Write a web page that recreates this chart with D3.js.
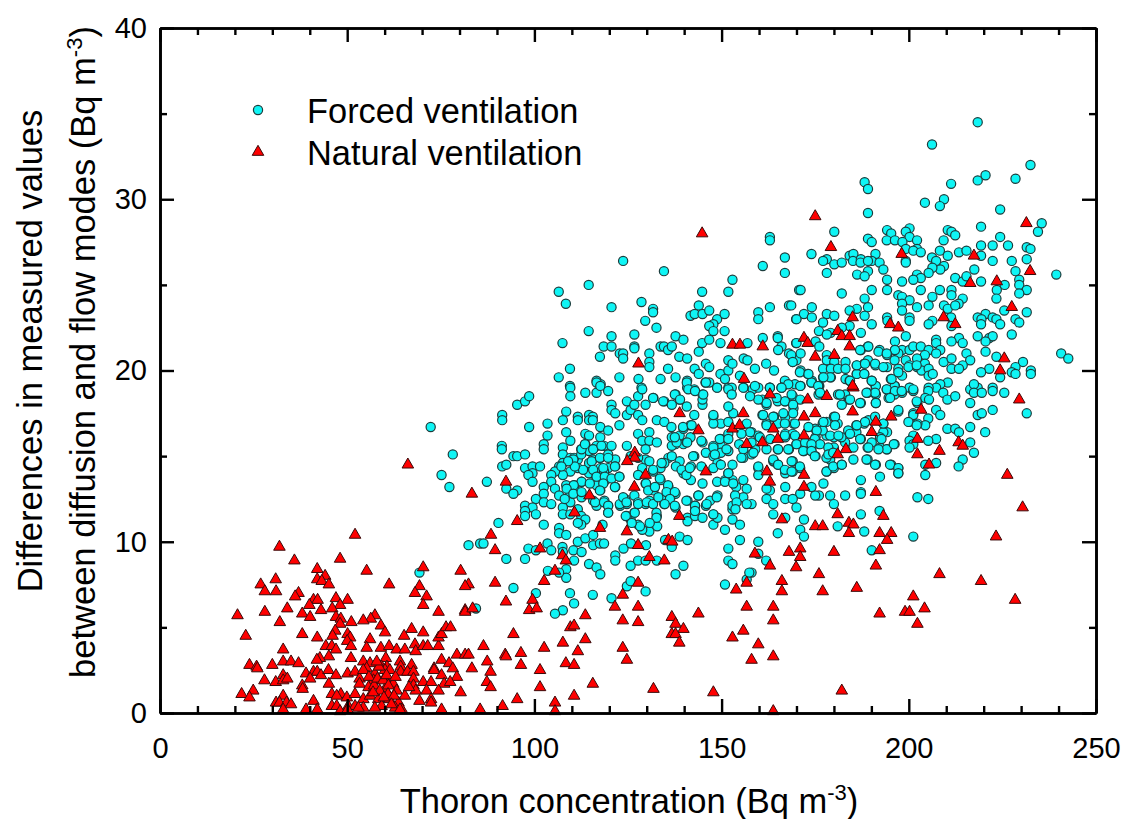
<!DOCTYPE html>
<html>
<head>
	<meta charset="utf-8">
	<title>Thoron scatter</title>
	<script src="https://d3js.org/d3.v7.min.js"></script>
	<style>
		html, body { margin: 0; padding: 0; background: #fff; }
		text { font-family: "Liberation Sans", Arial, sans-serif; fill: #000; }
	</style>
</head>
<body>
	<div class="chart"></div>

	<script type="text/javascript">

		// values: [thoron, difference]
		const forcedPoints = [
			[123.7,26.4],[134.6,25.8],[114.5,25],[106.5,24.6],[108.4,23.9],[120.6,23.7],[128.6,24],[131.7,23.6],[131.7,23.4],[129.6,22.9],[132.6,22.5],[114.5,22.3],[107.5,21.6],[120.6,22],[126.7,22.1],[126.7,21.4],[126.7,21.3],[118.5,21.4],[120.6,21.4],[117.5,20.8],[122.8,21],[123.7,21],[123.7,20.7],[130.7,21],[130.7,20.5],[130.7,20.2],[133.7,21.4],[134.6,21.4],[135.7,21.2],[136.7,21.4],[137.7,22],[139.8,21.8],[138.7,20.8],[140.8,20.7],[143.9,21.1],[144.8,21.6],[146.7,21.8],[149.7,21.6],[156.9,21.6],[161,21.9],[165,22],[165,21.9],[166,21.4],[165.1,21.2],[169.9,21.6],[168,21],[169,20.5],[144.8,24.6],[143.9,23.8],[141.7,23.2],[142.8,23.3],[144.9,23.3],[146.7,23.5],[148.8,23],[147.8,22.7],[146.7,22.6],[147.8,22.3],[150.8,23.3],[150.8,22.3],[151.8,24.6],[152.9,25.3],[161,26.1],[162.9,27.8],[162.9,27.6],[166.9,26.6],[166.9,25.7],[170.7,24.7],[162.9,23.7],[168,23.8],[159.8,23.4],[159.8,23],[169.9,23],
			[109.5,20.1],[106.5,19.6],[109.5,19.1],[116.6,19.4],[117.7,19.2],[122.7,19.6],[127.8,19.5],[128.6,19],[133.7,19.5],[135.7,20.1],[137.7,19.6],[140.8,19.4],[140.8,19],[142.8,20.1],[143.9,19.8],[145.8,20.4],[146.7,20.2],[145.7,19.3],[146.7,19.3],[148.8,19],[149.7,19.8],[151.8,20],[151.8,20.6],[152.9,20.4],[150.9,19.5],[151.8,19],[154.9,19.7],[155.9,20.7],[156.9,20.6],[158.9,20.1],[161.9,20.4],[164,20],[166.9,19.4],[158.9,19],[162.9,19],[166,19],[169.6,19.2],[155.9,19],[170,20.6],
			[218.4,34.5],[206.2,33.2],[232.5,32],[220.5,31.4],[218.4,31.1],[228.5,31.2],[211.3,30.9],[188.2,31],[189.1,30.6],[209.4,30],[204.3,29.8],[208.3,29.6],[224.4,29.4],[189.1,29.2],[235.5,28.6],[234.5,28.1],[219.3,28.4],[180.1,28.1],[194.2,28.2],[195.3,28],[200.2,28.3],[199.2,28.1],[200.2,27.8],[194.1,27.6],[196.3,27.6],[202.2,27.6],[198.3,27.5],[189.1,27.7],[190.1,27.5],[210.4,28.2],[211.4,28.1],[212.4,27.9],[209.3,27.6],[224.4,27.8],[219.3,27.3],[222.4,27.3],[226.5,27.3],[231.5,27.2],[232.5,27.1],[199.2,27.1],[202.2,27.1],[201.2,27],[203.2,26.9],[208.3,27],[210.4,26.7],[213.4,26.9],[215.4,27],[219.3,26.7],[174,26.8],[178.1,26.5],[177.1,26.4],[184.2,26.7],[185.2,26.8],[185.1,26.4],[187.2,26.5],[187.1,26.3],[191.1,26.8],[190.1,26.4],[189.1,26.4],[192.2,26.3],[180.1,26.2],[182.1,26.3],[199.2,26.4],[199.2,26.3],[206.2,26.6],[207.3,26.4],[209.4,26.1],[208.4,25.9],[206.3,26],[205.3,25.7],[222.4,26.4],[227.5,26.4],[231.5,26.5],[228.5,25.8],[217.5,25.9],[193.2,25.9],[178.1,25.7],[186.2,25.6],[189.1,25.8],[188.2,25.5],[202.2,25.6],[203.2,25.4],[201.2,25.3],[212.4,25.4],[214.4,25.2],[215.4,25.5],[219.3,25.2],[225.6,25],[239.4,25.6],[229.5,25.3],[229.5,25],[198.2,25.2],[194.2,25.3],[194.2,24.7],[190.1,24.7],[171.1,24.7],[182.1,24.5],[203.2,24.7],[208.3,24.7],[211.4,24.7],[211.4,24.4],[223.5,24.7],[231.5,24.7],[229.5,24.5],[206.3,24.3],[188.2,24.2],[197.2,24.4],[198.2,24.3],[200.2,24.1],[214.4,24.2],[213.3,23.9],[223.4,24.2],[205.3,23.8],[209.4,23.8],[210.4,23.6],[212.4,23.8],[198.2,23.9],[198.2,23.5],[189.1,23.7],[202.2,23.7],[186.1,23.6],[184.2,23.5],[174.1,23.7],[168.6,23.8],[172,23.3],[174.1,23.1],[178.1,23.3],[180.1,23.2],[170,23],[188.2,23.2],[225.5,23.5],[231.5,23.4],[220.5,23.3],[218.4,23.1],[219.4,23],[222.4,23.1],[223.4,23],[224.4,22.7],[219.3,22.7],[228.5,23],[229.5,22.8],[206.3,22.9],[205.3,22.7],[211.3,23.1],[211.4,22.6],[200.2,23.1],[200.2,22.9],[194.2,23.1],[194.3,22.9],[190.1,22.7],[177.1,22.8],[184.2,22.6],[182.1,22.5],[176,22.3],[179.1,22.2],[178.1,22.1],[187.2,22.2],[199.2,22],[227.5,22.1],[218.4,22],[221.5,21.9],[222.4,22],[220.5,21.7],[213.4,21.9],[214.4,21.6],[211.4,21.7],[207.3,21.8],[207.3,21.6],[196.3,21.7],[175.1,21.7],[170,21.6],[176.1,21.4],[189.1,21.4],[187.2,21.2],[192.2,21.2],[196.3,21.2],[198.2,21.2],[200.2,21.2],[201.2,21.4],[203.2,21.4],[205.3,21.2],[208.4,21.2],[207.3,21],[215.4,21],[220.5,21.1],[171.1,21],[178.1,20.9],[168.6,20.9],[194.2,20.9],[197.2,21],[199.2,20.6],[204.3,20.9],[202.2,20.7],[240.7,21],[242.6,20.7],[223.4,20.8],[230.5,20.5],[216.4,20.6],[209.3,20.5],[211.4,20.7],[211.4,20.1],[214.4,20.3],[213.4,20.1],[169,20.5],[183.1,20.5],[178.1,20.6],[180.1,20.5],[186.1,20.3],[188.1,20.4],[189.1,20.6],[191.1,20.3],[194.2,20.2],[196.2,20.6],[197.2,20.1],[200.2,20.3],[202.2,20.2],[204.3,20.4],[203.4,20],[205.3,20.1],[221.5,20.1],[219.3,19.9],[228.5,20.2],[227.5,19.9],[228.5,19.8],[232.6,20],[232.6,19.8],[224.4,19.6],[210.4,19.3],[177.1,20.1],[179.2,20.1],[181.1,20.1],[183.1,20.1],[171.1,20],[173,19.8],[177.1,19.6],[179.2,19.6],[174.1,19.4],[176.1,19.1],[171.1,19.1],[183.1,19.5],[184.2,19.4],[186.1,19.8],[188.1,19.8],[190.1,19.4],[191.1,19.1],[195.2,19.5],[198.2,19.7],[200.3,19],[205.3,19.7],[206.4,19.8],[208.4,19.2],[207.3,19],[217.5,19.1],[218.4,19],[222.4,19],[196.3,19.1],[205.3,19],
			[158.3,18.9],[159.8,19],[162.9,19],[166.1,19],[167.8,19.2],[171,19.1],[174,19.3],[176,19.1],[175.9,18.6],[181.1,18.6],[183,18.6],[184,18.3],[182.1,18],[189,18.7],[191.2,19.1],[191.2,18.6],[191.2,18.1],[187.2,18.1],[194.1,18.9],[196.2,19.1],[198.2,18.7],[196.2,18.6],[194.6,18.4],[200.2,19],[201.2,18.8],[205.2,18.8],[204.4,18.4],[205.4,18.3],[202.3,18.1],[209.2,18.7],[210.3,18.3],[212.4,18.5],[207.3,17.7],[208.4,17.4],[216.4,18.9],[217.4,19.2],[217.4,18.7],[219.5,18.7],[222.4,18.8],[225.5,18.7],[216.4,18.1],[218.4,17.4],[219.5,17.5],[222.4,17.7],[231.5,17.5],[220.4,16.4],[216.4,16.7],[210.3,16.6],[212.4,16.6],[213.4,16.4],[216.4,15.8],[217.4,15.2],[214.4,14.8],[213.3,14.4],[207.3,16],[205.2,15.9],[207.3,14.6],[204.4,14.5],[204.4,13.9],[201.2,16.2],[200.2,15.9],[201.2,15.7],[200.2,15.5],[205.2,17.2],[204.4,16.8],[202.3,16.9],[200.2,17],[201.2,17.5],[197.2,17.6],[193.2,16.9],[194.2,16.4],[193.2,16.4],[192.3,16.1],[196.2,15.7],[194.2,15.4],[192.3,15.5],[189,15.5],[190.1,15.8],[185.2,14.8],[189,14.8],[191.2,14.5],[195.3,14.5],[197.2,14.3],[197.2,14],[192.3,13.8],[187.2,13.6],[187.2,12.9],[187.2,12.8],[183,12.7],[179,12.7],[176,12.7],[175,12.7],[174,13.2],[171,12.8],[177.2,13.4],[180,12.2],[178.1,14.1],[180,14.3],[182.1,14.5],[179,14.8],[171,14.3],[169,14.1],[167,14],[165,14.5],[163.8,14.7],[159.8,14.3],[159.8,13.9],[167,13.2],[162.9,13],[162,13.1],[162,12.5],[167,12.5],[169,12.5],[170,12],[163.8,12.2],[158,12.2],[163.8,11.6],[167,11.4],[172,11.3],[171,10.7],[172,10.3],[165,10.5],[181,10.9],[187.2,11.6],[192.2,11.8],[188.1,10.6],[201.2,10.3],[190.1,9.5],[202.3,12.6],[205.2,12.5],[159.8,10],[159.8,9.3],[161.9,8.9],[158,8.2],
			[160.9,18.3],[162,18],[165,18.2],[169,18.5],[171,18.3],[167,18.2],[169.2,17.8],[160.9,17.4],[164,17.3],[167,17.3],[169.2,16.9],[162,16.9],[165,16.9],[158,16.4],[167,16.3],[169,16.3],[159.8,16.2],[175,16.6],[177,16.9],[178,17],[180,17.3],[181,16.9],[180,16.1],[178,16.2],[175.1,16.1],[170,15.7],[176,15.7],[172,15.3],[174,15.3],[175.1,15],[179,15.4],[180,15.5],[183,15.8],[184,16.4],[186,16.4],[187.2,16],[186,16.8],[188.1,16.9],[189.2,17.1],[185.2,15.5],[162,15.4],[165,15.4],[168,15.4],[159,15.4],[164,14.7],[169,14.7],[167,16.1],[163,16],[158,15.8],[158,15.1],[177,16.5],[182,16.1],[179,16.2],[178,14.9],
			[72.3,16.7],[78.2,15.1],[75.2,13.9],[77.3,13.2],[87.3,13.5],[90.4,11.1],[82.4,9.8],[85.5,9.9],[86.4,9.9],[92.5,9],[97.5,9],[98.4,9.6],[100.4,9.5],[94.4,7.3],[100.4,7],[103.6,8.3],[103.5,9.9],[104.5,9.5],[102.5,11],[106.6,10.8],[106.6,10.5],[108.5,10.4],[107.5,9.7],[107.6,9.4],[110.4,9.5],[112.6,9.4],[111.6,10],[113.6,10.2],[115.7,10.4],[115.7,9.8],[117.5,9.9],[118.6,9.9],[118.2,11],[110.6,8.9],[108.5,8.4],[108.5,7.9],[106.6,8.2],[114.6,8.7],[116.6,8.5],[117.6,8.1],[109.5,7],[110.6,6.4],[107.6,6],[105.5,5.8],[115.6,6.9],[120.6,6.7],[121.6,9.2],[121.6,8.9],[123.8,9.6],[125.8,9.9],[125.7,8.6],[127.7,8.9],[129.7,8.9],[132.7,8.9],[129.8,9.8],[124.7,7.4],[125.7,7.7],[129.7,7.1],[137.7,8.1],[139.8,8.6],[134.9,10.1],[138.8,10.3],[140.9,10.1],[136.7,9.7],[150.9,7.5],[151.8,9.6],[151.8,8.9],[152.9,8.7],[154.9,10.1],[156.7,7.8],[157.4,8.2],[130.7,10.6],[128.8,10.7],[127.7,11],[125.7,11.3],[126.7,11.7],[124.7,11.5],[132.7,11.5],[132.8,10.9],[140.9,11.4],[140.9,11.2],[142.9,11.5],[144.9,11.4],[147.8,11.6],[147.8,11],[148.9,11.4],[150.9,10.7],[152.9,11.3],[154.9,11],[152.9,11.9],[69.3,8.2],[84.4,6.1],
			[91.4,17.4],[91.4,17.1],[95.4,18],[97.5,18.2],[98.6,18.5],[98.6,16.7],[103.5,16.9],[103.5,16.2],[102.5,15.7],[102.5,15.4],[91.3,15.6],[91.3,15.4],[94.4,15],[95.4,15],[97.5,15.1],[91.4,14.4],[92.5,14.5],[97.5,14.3],[99.5,14.4],[101.5,14.4],[99.5,14],[98.4,13.9],[99.5,13.5],[92.5,13.1],[95.4,13],[94.4,12.8],[109.6,19],[109.6,18.5],[113.6,18.7],[116.6,18.7],[119.7,18.8],[116.6,19.3],[117.6,19.1],[108.5,17.6],[107.6,17.1],[111.6,17.3],[111.6,17.1],[114.6,17.4],[115.6,17.3],[114.6,17.1],[115.6,17.1],[117.6,16.7],[119.7,16.5],[108.5,16.4],[113.6,16.3],[114.6,16.2],[117.6,16.1],[109.6,15.9],[107.6,15.5],[107.6,15.1],[113.6,15.7],[116.6,15.6],[118.6,15.6],[112.5,15.4],[115.6,15.4],[114.6,15.3],[119.7,15.1],[117.6,14.9],[111.6,14.8],[109.6,14.9],[110.6,14.9],[107.6,14.6],[106.6,14.4],[112.5,15.1],[115.6,14.8],[114.6,14.6],[117.6,14.3],[119.7,14.3],[121.6,14.8],[121.6,14.4],[122.7,13.8],[118.6,14.1],[115.6,14],[114.6,14],[111.6,14.3],[109.6,14.1],[107.6,13.9],[105.5,14.1],[104.5,13.9],[104.5,13.5],[102.5,13.2],[105.5,13.1],[108.5,13.3],[110.6,13.3],[112.6,13.5],[116.6,13.8],[118.6,13.5],[119.7,13.7],[116.6,13.3],[121.6,13.2],[117.6,13],[106.6,12.7],[109.6,12.8],[111.6,12.9],[112.6,12.6],[100.4,12.5],[102.5,12.8],[102.5,12.3],[104.5,12.2],[109.6,12.3],[107.6,12],[97.5,12.1],[99.5,12],[97.5,11.8],[97.5,11.5],[100.4,11.6],[107.6,11.6],[109.6,11.6],[111.6,11.9],[115.7,12.4],[116.6,12.1],[119.7,12.1],[119.7,11.7],[112.5,11.5],[113.6,11.3],[112.5,11],[111.6,11.1],[118.7,12.4],[122.9,12.1],[124.2,12.5],
			[120.6,18],[120.6,17.7],[121.6,17.5],[122.7,16.8],[124.7,17.4],[125.7,17.7],[124.7,18.2],[126.7,18],[127.7,18.5],[128.8,18.9],[129.7,18],[131.8,18.4],[134.7,18.2],[136.7,18],[137.7,18.6],[138.8,18.3],[140.7,17.9],[140.7,19.3],[142.7,18.9],[144.9,18.6],[144.9,18],[144.9,18.3],[145.8,19.3],[148.8,19],[147.8,17.3],[142.7,17.4],[127.7,17.4],[128.8,17.1],[132.7,17.1],[134.7,17],[127.7,16.3],[130.7,16.4],[128.8,15.9],[130.7,15.9],[132.7,15.8],[129.7,15.4],[124.7,15.6],[125.7,15],[129.7,14.8],[130.7,14.7],[127.7,14.9],[131.8,14.1],[128.8,14.3],[127.7,13.9],[129.7,13.4],[130.7,13.1],[131.8,13],[126.7,12.7],[130.7,12.4],[129.7,12.2],[127.7,12.3],[124.7,12.2],[134.7,12.5],[135.8,12.9],[134.7,12.2],[136.7,12.7],[137.7,12.8],[137.7,12],[135.8,13.2],[133.7,13.6],[133.7,14.3],[135.8,14.9],[134.7,14.6],[136.7,15],[138.8,14.7],[137.7,15.7],[136.7,15.6],[139.8,15.7],[138.8,16.2],[136.7,16.1],[139.8,16.6],[141.7,16.8],[140.7,15.8],[141.7,16.1],[144.9,15.8],[145.8,15.2],[142.7,15],[141.8,14.4],[139.8,14],[141.8,13.6],[144.9,13.4],[149.8,16.9],[151.8,17],[147.8,16.9],[149.8,16],[151.8,16.3],[149.8,15.6],[147.8,15.6],[151.8,15.3],[149.8,15.2],[147.8,15],[148.9,14.6],[154.7,15.7],[155.8,14.9],[151.8,14],[152.9,13.6],[150.9,13.6],[148.8,13.5],[155.8,13.6],[156.7,13.1],[153.9,13.2],[148.9,12.7],[146.9,12.4],[143.8,12.7],[140.9,12.4],[142.9,12.1],[142.9,11.8],[145.8,12.1],[155.8,12.6],[153.6,12.7],[152.9,12.1],[156.7,12.2],[153.1,17.5],[156.7,16.9],[152.7,19],[151.8,18.9],[152.7,18.6],[151.8,17.9],
			[110.4,14.8],[112.6,15.4],[113.5,15.7],[115.7,15.4],[117.9,15.6],[120.6,15.6],[115.3,14.7],[117.5,14.9],[119.7,14.9],[121.5,14.4],[118.4,14.3],[115.7,14.2],[113,14.2],[110.8,14.4],[109,14.7],[107.2,14.4],[116.6,13.8],[118.8,13.8],[120.6,13.7],[122.7,13.8],[112.6,13.5],[114.8,13.4],[118.4,13.4],[121.5,13.2],[110.5,13.3],[108.6,13.1],[110.4,12.8],[108.1,12.5],[117.5,13],[112.6,12.9],[116.2,12.3],[118.6,12.3],[119.7,12.1],[119.7,11.7],[122.8,12.2],[123.7,12.6],[124.6,12.3],[126.8,11.7],[124.4,11.5],[129.8,13.4],[130.4,13],[127.7,12.2],[130,12.3],[131.7,12.2],[132.6,11.7],[132.6,11.4],[130.8,11.1],[128.2,10.9],[126,11.1],[131.7,14.2],[134,14.6],[133.5,13.7],[135.7,13.3],[132.2,13.2],[133.1,12.6],[135.3,12.9],[137.5,12.9],[136.2,12.5],[134.8,12.2],[137.5,12.1],[140.6,12.4],[143.8,12.7],[142.9,12.1],[142.9,11.8],[146,12.2],[148.7,12.6],[147.8,11.6],[137.8,14.4],[139.3,14.2],[140.6,13.9],[142.4,15],[141.5,14.3],[144.6,14.4],[147.8,14.3],[149.8,14.5],[152.9,14.5],[151.8,14],[150.9,13.5],[153.1,13.4],[154,12.3],[153.7,11.9],[147.8,15.5],[149.5,16],[151.8,16],[151.3,15.4],[148.2,15.1],[144.6,15.9],[140.8,15.8],[138,15.8],[137.5,16.1],[139.7,16.7],[142,16.8],[136.6,16.7],[147.8,17.4],[141.1,18.9],[142.9,18.8],[145.1,18.6],[131.7,18.4],[134.4,18.2],[137.5,18.6],[138.9,18.3],
			[155.8,19],[158.9,19.1],[162.9,19],[166,19],[168.7,18.6],[166.9,18.2],[164.7,18.4],[162,18.1],[159.8,18.3],[157.6,18.5],[169.1,18],[166.5,17.5],[163.8,17.3],[161.1,17.4],[169.1,17.5],[166.9,16.9],[169.6,16.9],[173.2,16.7],[175.4,16.5],[177.2,17],[180.3,17.3],[180.3,16.8],[183.8,16.5],[181.2,16.2],[162,16.8],[160.2,16.1],[157.6,16.4],[155.3,16.3],[166.9,16.2],[169.6,16.2],[174.9,16],[176.3,15.7],[170,15.7],[172.3,15.8],[174,15.7],[165.1,15.4],[167.8,15.4],[171.8,15.3],[174,15.3],[174.9,15],[178.5,15.5],[178.5,15.1],[179.8,15.2],[155.8,15.4],[158.5,15.2],[155.3,14.9],[163.8,14.8],[165.1,14.5],[168.7,14.7],[166.9,14.2],[168.7,14.1],[170.9,14.4],[159.8,14.4],[178,14.1],[179.8,14.4],[182.1,14.5],[188.7,14.8],[191,14.5],[195,14.5],[197.2,14.3],[197.2,14],[194.1,15.4],[196,15.7],[191.9,15.4],[189.2,15.5],[187,16],[184.3,16.3],[192.7,16],[201.2,17.4],[199.9,17],[202.1,16.8],[202.1,18.2],[197.2,17.7],[193.2,16.9],[188.3,17],[186.1,16.8],[191,17.3],[181.6,18.6],[184.3,18.3],[187,18.1],[191,18.7],[191.2,18.1],[188.7,18.7],[190.1,19.4],[184.3,19.4],[179,19.6],[177.2,19.6],[174,19.3],[170.9,19.9],[173.2,19.8],[175.8,19.1],[176.3,18.7],[186.1,19.8],[188.1,19.8],[186.1,20.3],[188.3,20.4],[191,20.4],[193.2,20.2],[195.4,19.5],[194.1,18.9],[196.3,18.8],[198.1,18.8],[201.2,18.9],[195,18.4],[197.2,19.9],[199.9,20.2],[202.1,20.3],[196.3,21.2],[191.9,21.1],[194.1,21],[189.2,21.4],[187,21.2]
		]

		const naturalPoints = [
			[52.1,10.4],[31.9,9.7],[35.9,8.9],[48.1,9],[55.2,8.3],[42,8.4],[44.1,8],[30.9,7.8],[42,7.8],[43.2,7.7],[45.1,7.5],[26.9,7.5],[28,7.1],[31,7.1],[37,7],[36.1,6.8],[41,6.6],[42.1,6.6],[47,6.7],[50.1,6.6],[39.9,6.3],[48.1,6.3],[46,6.1],[34,6.1],[28,5.9],[20.7,5.7],[43,6],[38,5.8],[40.1,5.6],[47,5.6],[48.3,5.5],[48.1,5.2],[57.4,5.7],[56.3,5.5],[54.3,5.4],[51.1,5.3],[32,5.3],[59,5.1],[60.1,4.7],[46.8,4.8],[38,4.6],[22.9,4.5],[50.1,4.6],[46.1,4.5],[42,4.4],[50.8,4.4],[50,4.2],[56.1,4.3],[55.2,3.8],[51,3.9],[44.3,3.9],[45.9,3.9],[47,3.7],[32.9,3.7],[59,3.8],[61.2,3.9],[63.2,3.7],[65.4,3.7],[67.2,4.9],[70.3,4.7],[65.2,4.5],[68.1,4],[68.3,3.6],[70.3,3.9],[71.5,3.9],[74.4,3.9],[74.4,4.4],[75.2,4.6],[76.4,5],[77.6,5],[51,3.2],[45.1,3.3],[42.7,3.2],[41.9,3.1],[32.9,3],[35,3],[37,2.9],[23.9,2.8],[25.8,2.7],[26,2.6],[30,2.8],[54.3,3],[56.1,2.9],[60.3,3.2],[59.2,2.7],[60.6,2.7],[64.1,3],[64.3,2.7],[67.2,2.8],[73.2,2.6],[75.2,3.1],[77.2,2.9],[79.3,3.4],[81.5,3.4],[82.4,3.4],[86.4,3.9],[87.4,3],[83.3,2.6],[78.2,2.6],[92.2,3.4],[92.4,3.3],
			[39,2.3],[41,2.4],[42,2.4],[43,2.2],[45,2.5],[47,2.2],[50.1,2.3],[52.1,2.4],[53.3,2],[55.2,2.6],[54.3,2.5],[57.4,2.3],[60.1,2.5],[61.4,2.5],[64.3,2.4],[66.1,2.4],[67.7,2.4],[73.2,2.5],[75.2,2.2],[79.3,2.1],[88.3,2.4],[87.3,1.8],[88.3,1.5],[40.1,2],[32.9,2.2],[27.9,1.9],[30.9,1.8],[32.9,1.9],[34,2],[38,1.6],[38.1,1.4],[45.1,1.7],[53.3,1.7],[57,1.9],[60.1,2],[62.3,1.7],[67.7,2],[70.3,1.8],[72.4,1.8],[75.9,1.7],[77.5,1.8],[67.7,1.6],[55.7,1.5],[57.2,1.6],[60.1,1.4],[63.2,1.3],[65.4,1],[68.3,1.3],[71.2,1.3],[74.4,1.3],[80.3,1.2],[24.9,1.3],[21.8,1.1],[23.9,0.9],[32.9,1],[45.9,1.1],[48.3,1.1],[47.2,1],[49.9,0.9],[52.1,1.1],[54.3,0.8],[56.1,1],[58.3,0.8],[61.3,0.8],[63.7,0.6],[69.3,0.7],[72.4,0.8],[72.4,0.6],[41,0.7],[31,0.6],[31.9,0.6],[33.8,0.6],[35,0.5],[45.9,0.4],[47.2,0.4],[50.3,0.4],[52.1,0.4],[54.3,0.3],[59.2,0.4],[62.8,0.3],[64.6,0.2],[75.2,0.2],[85.5,0.2],[91.5,0.4],[32.9,0.2],[39,0.2],[42,0.2],[48.1,0.1],[50.1,0.2],[53,0.3],[57.4,0.3],[64.1,0.2],
			[55.8,2.1],[58.1,2],[59.6,1.9],[61,1.6],[58.7,1.3],[60.9,1.1],[62.5,1],[56.9,1.2],[59.8,0.9],[61.8,0.5],[60.5,2.2],[62.9,2.1],[66.5,1.5],[58.5,2.7],[57.9,3],
			[70.3,8.5],[80.3,8.3],[82.4,7.5],[81.5,7.4],[61.2,7.5],[69.3,7.4],[68.1,7],[71.2,6.8],[70.3,6.3],[74.4,5.9],[89.5,7.6],[81.5,6],[81.5,5.9],[83.5,6.1],[92.4,6.5],[88.4,10.4],[89.5,9.5],[66.2,14.5],[83.3,12.8],[92.4,13.5],
			[95.4,11.2],[101.5,9.6],[107.5,9.2],[108.4,8.9],[105.5,8.3],[102.6,7.7],[99.5,6.6],[98.6,6],[100.6,6.1],[114.7,12.7],[110.7,11.7],[117.5,10.8],[124.7,10.6],[126.8,15.2],[126.8,14.9],[124.8,14.7],[129.7,13.9],[126.7,13.2],[138.8,17.5],[143.8,16.5],[155.8,17.5],[152.9,16.6],[154.8,16.8],[156.7,15.7],[145.8,14.1],[138.7,11.5],[135.8,10.1],[136.8,10],[127.7,9.8],[130.7,9.1],[134.7,8.9],[127.7,7.6],[123.6,6.9],[121.5,6.2],[127.7,6.2],[113.6,5.7],[109.6,5],[110.6,5.1],[123.6,5.4],[127.7,5.3],[136.7,5.6],[143.8,5.8],[137.7,5.2],[139.8,4.9],[136.7,4.6],[137.7,4.6],[138.7,4.1],[153.9,7.2],[156.7,7.6],[156.7,6.2],[152.9,4.4],[155.8,4.8],[113.6,4.3],[107.6,4.1],[111.6,3.6],[102.6,3.8],[94.4,4.6],[123.6,3.8],[124.7,3.1],[96.4,3.5],[96.4,2.8],[108.4,2.9],[110.6,2.8],[101.5,2.5],[101.5,1.5],[115.6,1.7],[131.8,1.4],[147.8,1.2],[110.6,1],[95.4,0.8],[105.5,0.6],[105.5,0.1],
			[162.9,18.6],[173,18.3],[178.1,18.5],[185.2,19],[229.5,18.3],[175,17.5],[172,17.3],[185,17.6],[195.3,17.3],[203.3,17.7],[191.2,17],[190.1,16.4],[163.8,16.6],[172,16.2],[165,16],[160.9,15.8],[202.3,16],[213.3,15.8],[214.4,15.6],[208.2,15.3],[202.3,15.1],[183.2,15.4],[181,15.1],[205.4,14.5],[226.3,13.9],[162.1,14.1],[162.9,13.5],[172,13.9],[172,13.2],[191.2,12.9],[230.4,12],[181,11.6],[193.2,11.5],[166.1,11.3],[175,10.9],[177,10.9],[184,11.1],[185.2,11],[184,10.5],[192.2,10.5],[195.3,10.5],[194.2,10.1],[223.3,10.3],[158.9,9.3],[168,9.4],[171,9.6],[171,9.1],[180,9.4],[192.2,9.5],[162.9,8.6],[169.9,8.5],[191.2,8.6],[176,8.1],[208.2,8.1],[166.1,7.7],[219.3,7.7],[166.1,7.1],[177,7.1],[186.1,7.3],[201.2,6.8],[228.4,6.6],[163.8,6.2],[204.2,6.1],[192.2,5.8],[199,5.9],[200.2,5.9],[202.3,5.2],[163.8,5.4],[159.8,4],[163.8,3.3],[158,3.1],[182.1,1.3],[163.8,0.1],
			[175,29],[179.2,27.2],[198.1,26.8],[231.4,28.6],[217.4,26.7],[232.4,25.8],[216.4,25.1],[223.5,25.2],[227.5,23.7],[209.3,23.1],[212.4,22.7],[185,23.1],[195,22.7],[197.2,22.5],[181,22.3],[182.1,22],[184.2,22],[184.2,21.4],[172,21.9],[173,21.6],[175,20.8],[180.1,20.9],[225.5,20.7],[224.4,20],[185,19.1],
			[144.8,28],[152.9,21.5],[154.9,21.5],[161,21.4],[127.8,20.4],[156,19.5]
		]

		const xTicks = [0, 50, 100, 150, 200, 250]
		const xMinorTicks = [10, 20, 30, 40, 60, 70, 80, 90, 110, 120, 130, 140, 160, 170, 180, 190, 210, 220, 230, 240]
		const yTicks = [0, 10, 20, 30, 40]
		const yMinorTicks = [5, 15, 25, 35]
		const legendLabels = ['Forced ventilation', 'Natural ventilation']

		var width = 1124
		var height = 819
		var plotLeft = 160
		var plotRight = 1096
		var plotTop = 28
		var plotBottom = 713

		var svg = d3
			.select('.chart')
			.append('svg')
			.attr('width', width)
			.attr('height', height)
			.style('display', 'block')

		const x = d3.scaleLinear().domain([0, 250]).range([plotLeft, plotRight])
		const y = d3.scaleLinear().domain([0, 40]).range([plotBottom, plotTop])

		const circle = d3.symbol().type(d3.symbolCircle).size(Math.PI * 4.6 * 4.6)
		const triangle = d3.symbol().type(d3.symbolTriangle).size(58)

		function drawForced(sel) {
			sel.attr('d', circle).attr('fill', '#0ff5f5').attr('stroke', '#1c3c3c').attr('stroke-width', 1.2)
		}
		function drawNatural(sel) {
			sel.attr('d', triangle).attr('fill', '#ff0000').attr('stroke', '#3a0a0a').attr('stroke-width', 1)
		}

		/**
		 * points, cyan under red
		 */
		svg.append('g')
			.selectAll('path')
			.data(forcedPoints)
			.enter()
			.append('path')
			.attr('transform', (d) => `translate(${x(d[0])}, ${y(d[1])})`)
			.call(drawForced)

		svg.append('g')
			.selectAll('path')
			.data(naturalPoints)
			.enter()
			.append('path')
			.attr('transform', (d) => `translate(${x(d[0])}, ${y(d[1])})`)
			.call(drawNatural)

		/**
		 * axes on all four sides, ticks pointing inward
		 */
		function addAxis(axis, tx, ty, showLabels) {
			const g = svg.append('g').attr('transform', `translate(${tx}, ${ty})`).call(axis)
			g.selectAll('path,line').attr('stroke', '#000').attr('stroke-width', 2.4)
			g.select('.domain').attr('stroke-width', 2.6)
			g.selectAll('text').attr('font-size', 29).style('font-family', '"Liberation Sans", Arial, sans-serif')
			if (!showLabels) g.selectAll('text').remove()
			return g
		}

		addAxis(d3.axisBottom(x).tickValues(xTicks).tickSizeInner(-14).tickSizeOuter(0).tickPadding(24), 0, plotBottom, true)
		addAxis(d3.axisBottom(x).tickValues(xMinorTicks).tickSizeInner(-7).tickSizeOuter(0), 0, plotBottom, false)
		addAxis(d3.axisTop(x).tickValues(xTicks).tickSizeInner(-14).tickSizeOuter(0), 0, plotTop, false)
		addAxis(d3.axisTop(x).tickValues(xMinorTicks).tickSizeInner(-7).tickSizeOuter(0), 0, plotTop, false)
		addAxis(d3.axisLeft(y).tickValues(yTicks).tickSizeInner(-14).tickSizeOuter(0).tickPadding(13), plotLeft, 0, true)
		addAxis(d3.axisLeft(y).tickValues(yMinorTicks).tickSizeInner(-7).tickSizeOuter(0), plotLeft, 0, false)
		addAxis(d3.axisRight(y).tickValues(yTicks).tickSizeInner(-14).tickSizeOuter(0), plotRight, 0, false)
		addAxis(d3.axisRight(y).tickValues(yMinorTicks).tickSizeInner(-7).tickSizeOuter(0), plotRight, 0, false)

		/**
		 * titles
		 */
		function unitTitle(g, label) {
			g.append('tspan').text(label + ' (Bq m')
			g.append('tspan').attr('dy', -13).attr('font-size', 22).text('-3')
			g.append('tspan').attr('dy', 13).text(')')
		}

		svg.append('text')
			.attr('x', 629)
			.attr('y', 813)
			.attr('text-anchor', 'middle')
			.attr('font-size', 34.5)
			.call(unitTitle, 'Thoron concentration')

		svg.append('text')
			.attr('transform', 'translate(42, 351) rotate(-90)')
			.attr('text-anchor', 'middle')
			.attr('font-size', 34.5)
			.text('Differences in measured values')

		svg.append('text')
			.attr('transform', 'translate(95, 352) rotate(-90)')
			.attr('text-anchor', 'middle')
			.attr('font-size', 34.5)
			.call(unitTitle, 'between diffusion and flow modes')

		/**
		 * legend
		 */
		const legend = svg.append('g')
		legend.append('path').attr('transform', 'translate(258, 110)').call(drawForced)
		legend.append('path').attr('transform', 'translate(258, 152)').call(drawNatural)
		legend.selectAll('text')
			.data(legendLabels)
			.enter()
			.append('text')
			.attr('x', 307)
			.attr('y', (d, i) => 123 + i * 42)
			.attr('font-size', 34.4)
			.text((d) => d)

	</script>
</body>
</html>
